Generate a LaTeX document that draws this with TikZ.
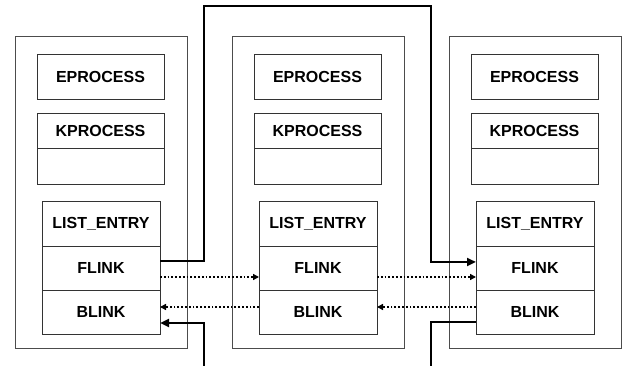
\documentclass[tikz,border=0pt]{standalone}
\usepackage{fontspec}
\setmainfont{Liberation Sans}
\usetikzlibrary{arrows.meta}
\tikzset{
  panel/.style={draw=black!70, line width=0.9pt},
  cell/.style={draw=black!80, line width=0.9pt, inner sep=0pt, outer sep=0pt, anchor=north west,
    font=\fontsize{16}{19}\selectfont\bfseries},
  thick link/.style={line width=2.9pt, draw=black},
  dot link/.style={line width=1.8pt, draw=black, dash pattern=on 1.8pt off 2pt},
  bigtip/.style={-{Triangle[length=9pt,width=8pt]}},
  smalltip/.style={-{Triangle[length=6pt,width=6pt]}},
}
\begin{document}
\begin{tikzpicture}[x=1pt,y=-1pt]
\useasboundingbox (0,0) rectangle (622,366);
\foreach \p/\ox in {L/15,M/232,R/449}{
  \draw[panel] (\ox,36) rectangle (\ox+172,348);
  \node[cell, minimum width=127pt, minimum height=45pt] (\p-e) at (\ox+22,54) {EPROCESS};
  \node[cell, minimum width=127pt, minimum height=35pt] (\p-k) at (\ox+22,113) {KPROCESS};
  \node[cell, minimum width=127pt, minimum height=36pt] (\p-k2) at (\ox+22,148) {};
  \node[cell, minimum width=118pt, minimum height=45pt] (\p-le) at (\ox+27,201) {LIST\_ENTRY};
  \node[cell, minimum width=118pt, minimum height=44pt] (\p-f) at (\ox+27,246) {FLINK};
  \node[cell, minimum width=118pt, minimum height=44pt] (\p-b) at (\ox+27,290) {BLINK};
}
% free ends
\coordinate (bl) at (204,366);
\coordinate (br) at (431,366);
% solid FLINK link from left to right
\draw[thick link, bigtip] ([yshift=7pt]L-f.east) -| (204,6) -| ([yshift=6pt]R-f.west -| 431,0) -- ([yshift=6pt]R-f.west);
% dotted FLINK links
\draw[dot link, smalltip] ([yshift=-9pt]L-f.east) -- ([yshift=-9pt]M-f.west);
\draw[dot link, smalltip] ([yshift=-9pt]M-f.east) -- ([yshift=-9pt]R-f.west);
% dotted BLINK links
\draw[dot link, smalltip] ([yshift=5pt]M-b.west) -- ([yshift=5pt]L-b.east);
\draw[dot link, smalltip] ([yshift=5pt]R-b.west) -- ([yshift=5pt]M-b.east);
% solid BLINK links
\draw[thick link] ([yshift=-10pt]R-b.west) -| (br);
\draw[thick link, bigtip] (bl) |- ([yshift=-11pt]L-b.east);
\end{tikzpicture}
\end{document}
